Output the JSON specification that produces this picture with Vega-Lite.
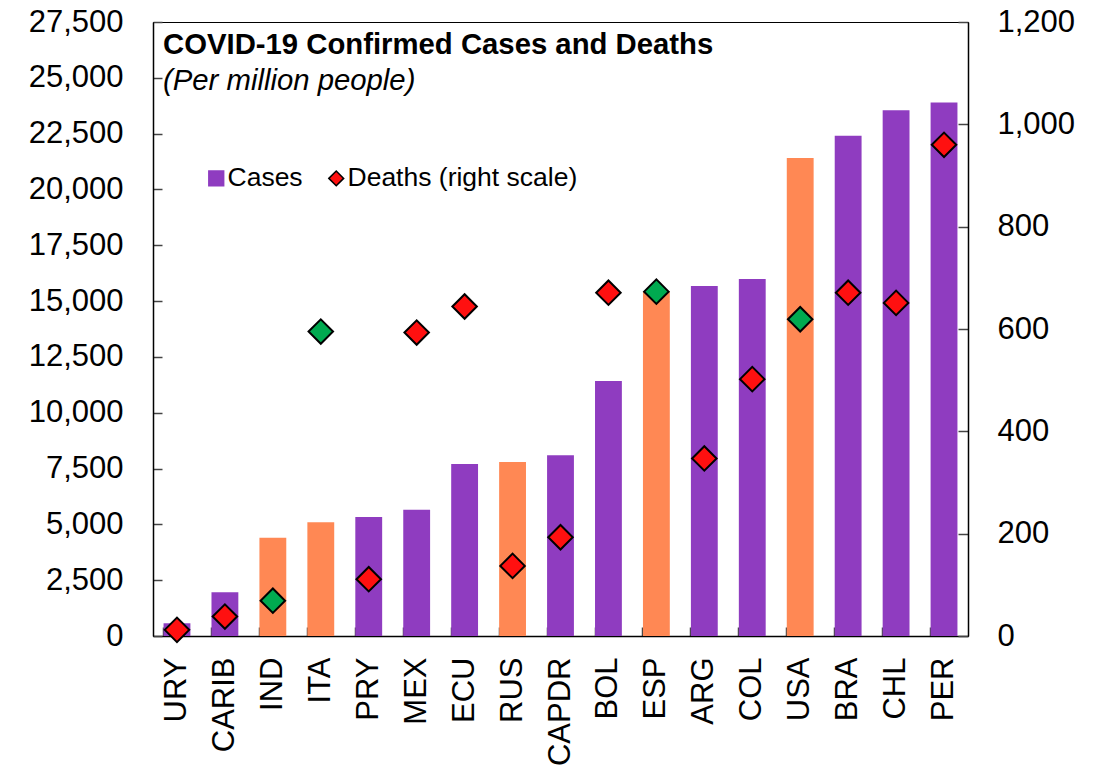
{
  "$schema": "https://vega.github.io/schema/vega-lite/v6.json",
  "width": 815,
  "height": 614,
  "autosize": {"type": "none"},
  "padding": {"left": 153, "top": 22, "right": 141, "bottom": 132},
  "background": "white",
  "title": {
    "text": "COVID-19 Confirmed Cases and Deaths",
    "subtitle": "(Per million people)",
    "anchor": "start",
    "frame": "group",
    "orient": "top",
    "offset": -90,
    "dx": 10,
    "font": "Liberation Sans",
    "fontSize": 29.3,
    "fontWeight": "bold",
    "color": "black",
    "subtitleFont": "Liberation Sans",
    "subtitleFontSize": 29.3,
    "subtitleFontStyle": "italic",
    "subtitleColor": "black",
    "subtitlePadding": 6
  },
  "data": {
    "values": [
      {"country": "URY", "cases": 570, "deaths": 12, "barGroup": "Cases", "pointGroup": "Deaths (right scale)"},
      {"country": "CARIB", "cases": 1960, "deaths": 38, "barGroup": "Cases", "pointGroup": "Deaths (right scale)"},
      {"country": "IND", "cases": 4400, "deaths": 69, "barGroup": "Cases (comparator)", "pointGroup": "Deaths (comparator)"},
      {"country": "ITA", "cases": 5100, "deaths": 595, "barGroup": "Cases (comparator)", "pointGroup": "Deaths (comparator)"},
      {"country": "PRY", "cases": 5330, "deaths": 111, "barGroup": "Cases", "pointGroup": "Deaths (right scale)"},
      {"country": "MEX", "cases": 5650, "deaths": 593, "barGroup": "Cases", "pointGroup": "Deaths (right scale)"},
      {"country": "ECU", "cases": 7700, "deaths": 644, "barGroup": "Cases", "pointGroup": "Deaths (right scale)"},
      {"country": "RUS", "cases": 7790, "deaths": 137, "barGroup": "Cases (comparator)", "pointGroup": "Deaths (right scale)"},
      {"country": "CAPDR", "cases": 8100, "deaths": 193, "barGroup": "Cases", "pointGroup": "Deaths (right scale)"},
      {"country": "BOL", "cases": 11420, "deaths": 671, "barGroup": "Cases", "pointGroup": "Deaths (right scale)"},
      {"country": "ESP", "cases": 15440, "deaths": 673, "barGroup": "Cases (comparator)", "pointGroup": "Deaths (comparator)"},
      {"country": "ARG", "cases": 15680, "deaths": 347, "barGroup": "Cases", "pointGroup": "Deaths (right scale)"},
      {"country": "COL", "cases": 15990, "deaths": 502, "barGroup": "Cases", "pointGroup": "Deaths (right scale)"},
      {"country": "USA", "cases": 21410, "deaths": 619, "barGroup": "Cases (comparator)", "pointGroup": "Deaths (comparator)"},
      {"country": "BRA", "cases": 22400, "deaths": 671, "barGroup": "Cases", "pointGroup": "Deaths (right scale)"},
      {"country": "CHL", "cases": 23550, "deaths": 651, "barGroup": "Cases", "pointGroup": "Deaths (right scale)"},
      {"country": "PER", "cases": 23900, "deaths": 960, "barGroup": "Cases", "pointGroup": "Deaths (right scale)"}
    ]
  },
  "encoding": {
    "x": {
      "field": "country",
      "type": "nominal",
      "sort": null,
      "scale": {"paddingInner": 0.44, "paddingOuter": 0.22},
      "axis": {
        "title": null,
        "labelAngle": -90,
        "labelAlign": "right",
        "labelBaseline": "middle",
        "labelFont": "Liberation Sans",
        "labelFontSize": 31,
        "labelColor": "black",
        "labelPadding": 30,
        "tickSize": -9,
        "bandPosition": 0,
        "tickColor": "#444",
        "tickWidth": 1.5,
        "domainColor": "black",
        "domainWidth": 1.5,
        "grid": false
      }
    }
  },
  "layer": [
    {
      "mark": {"type": "bar"},
      "encoding": {
        "y": {
          "field": "cases",
          "type": "quantitative",
          "scale": {"domain": [0, 27500], "nice": false},
          "axis": {
            "orient": "left",
            "title": null,
            "values": [0, 2500, 5000, 7500, 10000, 12500, 15000, 17500, 20000, 22500, 25000, 27500],
            "format": ",.0f",
            "labelFont": "Liberation Sans",
            "labelFontSize": 31,
            "labelColor": "black",
            "tickSize": -9,
            "labelPadding": 39,
            "tickColor": "#444",
            "tickWidth": 1.5,
            "domainColor": "black",
            "domainWidth": 1.5,
            "grid": false
          }
        },
        "fill": {
          "field": "barGroup",
          "type": "nominal",
          "scale": {
            "domain": ["Cases", "Deaths (right scale)", "Cases (comparator)", "Deaths (comparator)"],
            "range": ["#8F3CC0", "#FF1010", "#FF8854", "#00AA50"]
          },
          "legend": {
            "values": ["Cases", "Deaths (right scale)"],
            "orient": "none",
            "legendX": 50,
            "legendY": 143,
            "direction": "horizontal",
            "title": null,
            "padding": 0,
            "labelFont": "Liberation Sans",
            "labelFontSize": 26.5,
            "labelColor": "black",
            "labelLimit": 500,
            "labelOffset": -2,
            "columnPadding": 20,
            "symbolSize": 220,
            "symbolStrokeWidth": 1.5,
            "symbolOpacity": 1
          }
        }
      }
    },
    {
      "mark": {"type": "point", "filled": true, "strokeWidth": 2, "size": 600, "opacity": 1},
      "encoding": {
        "y": {
          "field": "deaths",
          "type": "quantitative",
          "scale": {"domain": [0, 1200], "nice": false},
          "axis": {
            "orient": "right",
            "title": null,
            "values": [0, 200, 400, 600, 800, 1000, 1200],
            "format": ",.0f",
            "labelFont": "Liberation Sans",
            "labelFontSize": 31,
            "labelColor": "black",
            "tickSize": -10,
            "labelPadding": 39,
            "tickColor": "#444",
            "tickWidth": 1.5,
            "domainColor": "black",
            "domainWidth": 1.5,
            "grid": false
          }
        },
        "fill": {
          "field": "pointGroup",
          "type": "nominal",
          "scale": {
            "domain": ["Cases", "Deaths (right scale)", "Cases (comparator)", "Deaths (comparator)"],
            "range": ["#8F3CC0", "#FF1010", "#FF8854", "#00AA50"]
          },
          "legend": {
            "values": ["Cases", "Deaths (right scale)"],
            "orient": "none",
            "legendX": 50,
            "legendY": 143,
            "direction": "horizontal",
            "title": null,
            "padding": 0,
            "labelFont": "Liberation Sans",
            "labelFontSize": 26.5,
            "labelColor": "black",
            "labelLimit": 500,
            "labelOffset": -2,
            "columnPadding": 20,
            "symbolSize": 220,
            "symbolStrokeWidth": 1.5,
            "symbolOpacity": 1
          }
        },
        "shape": {
          "field": "pointGroup",
          "type": "nominal",
          "scale": {
            "domain": ["Cases", "Deaths (right scale)", "Cases (comparator)", "Deaths (comparator)"],
            "range": ["square", "diamond", "square", "diamond"]
          },
          "legend": {
            "values": ["Cases", "Deaths (right scale)"],
            "orient": "none",
            "legendX": 50,
            "legendY": 143,
            "direction": "horizontal",
            "title": null,
            "padding": 0,
            "labelFont": "Liberation Sans",
            "labelFontSize": 26.5,
            "labelColor": "black",
            "labelLimit": 500,
            "labelOffset": -2,
            "columnPadding": 20,
            "symbolSize": 220,
            "symbolStrokeWidth": 1.5,
            "symbolOpacity": 1
          }
        },
        "stroke": {
          "field": "pointGroup",
          "type": "nominal",
          "scale": {
            "domain": ["Cases", "Deaths (right scale)", "Cases (comparator)", "Deaths (comparator)"],
            "range": ["#8F3CC0", "black", "#FF8854", "black"]
          },
          "legend": {
            "values": ["Cases", "Deaths (right scale)"],
            "orient": "none",
            "legendX": 50,
            "legendY": 143,
            "direction": "horizontal",
            "title": null,
            "padding": 0,
            "labelFont": "Liberation Sans",
            "labelFontSize": 26.5,
            "labelColor": "black",
            "labelLimit": 500,
            "labelOffset": -2,
            "columnPadding": 20,
            "symbolSize": 220,
            "symbolStrokeWidth": 1.5,
            "symbolOpacity": 1
          }
        }
      }
    }
  ],
  "resolve": {"scale": {"y": "independent"}},
  "config": {
    "font": "Liberation Sans",
    "view": {"stroke": "black", "strokeWidth": 1}
  }
}
